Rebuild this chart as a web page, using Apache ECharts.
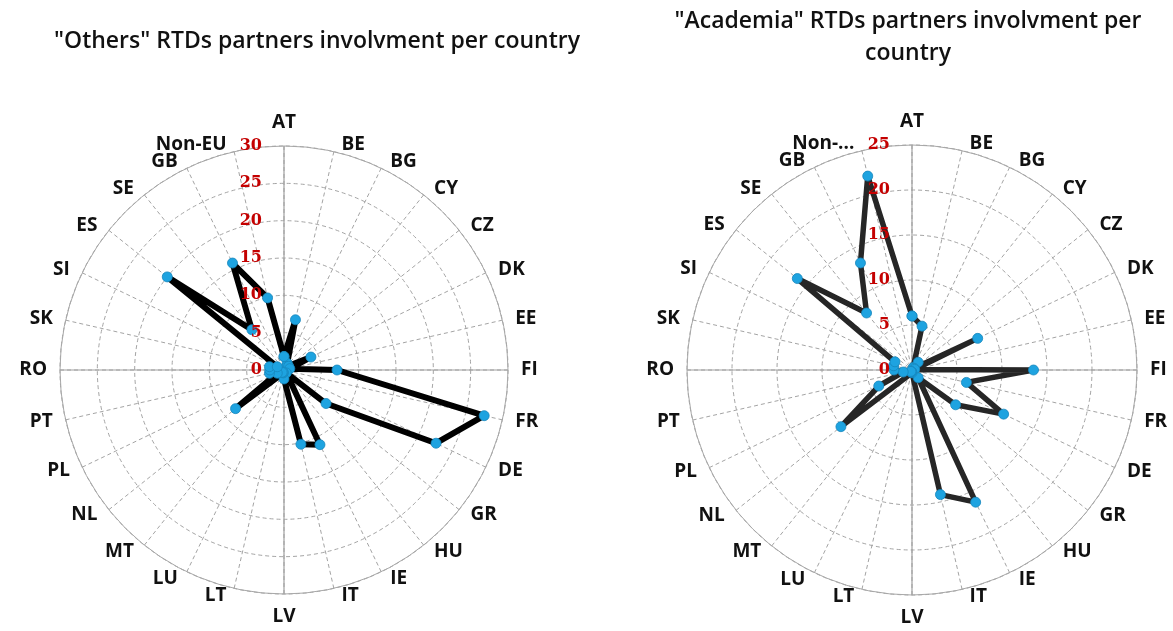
<!DOCTYPE html>
<html>
<head>
<meta charset="utf-8">
<script src="https://cdn.jsdelivr.net/npm/echarts@6/dist/echarts.min.js"></script>
<style>
html,body{margin:0;padding:0;background:#ffffff;}
#chart{width:1173px;height:631px;}
</style>
</head>
<body>
<div id="chart"></div>
<script>
// ---- data ----
const categories = ['AT','BE','BG','CY','CZ','DK','EE','FI','FR','DE','GR','HU','IE','IT','LV','LT','LU','MT','NL','PL','PT','RO','SK','SI','ES','SE','GB','Non-EU'];
const leftTickLabels = ['AT','BE','BG','CY','CZ','DK','EE','FI','FR','DE','GR','HU','IE','IT','LV','LT','LU','MT','NL','PL','PT','RO','SK','SI','ES','SE','GB','Non-EU'];
const rightTickLabels = ['AT','BE','BG','CY','CZ','DK','EE','FI','FR','DE','GR','HU','IE','IT','LV','LT','LU','MT','NL','PL','PT','RO','SK','SI','ES','SE','GB','Non-...'];
const othersValues = [1.8, 6.9, 1.0, 0.6, 0.8, 4.0, 0.8, 7.1, 27.5, 22.6, 7.2, 0.5, 11.1, 10.2, 1.2, 0.4, 0.3, 0.4, 8.3, 1.0, 2.0, 1.9, 2.0, 1.0, 20.0, 6.9, 15.9, 9.9];
const academiaValues = [6.0, 5.0, 0.3, 1.1, 0.3, 8.1, 0.3, 13.5, 6.2, 11.3, 6.2, 1.1, 16.3, 14.2, 0.3, 0.2, 0.2, 0.2, 10.1, 4.1, 1.0, 2.0, 2.1, 2.1, 16.3, 8.1, 13.2, 22.1];
const leftRadiusTicks = [0, 5, 10, 15, 20, 25, 30];
const rightRadiusTicks = [0, 5, 10, 15, 20, 25];
const leftTitle = '"Others" RTDs partners involvment per country';
const rightTitle = '"Academia" RTDs partners involvment per\ncountry';

// ---- styling ----
const LEFT_R = 224, RIGHT_R = 225;
const LABEL_MARGIN = 7;      // label anchor just outside the outer ring
const LABEL_GAP = 6;         // horizontal gap between anchor and text
const POLE_LINE = 32;        // line height used to lift AT / LV off the ring
const FS = 19;
const labelBase = { fontSize: FS, fontWeight: 'bold', color: '#111', fontFamily: 'Open Sans' };

// angle positions are the category indices; loop closes back on the first category
function closedLoop(vals) {
  const d = vals.map((v, i) => [v, i]);
  d.push([vals[0], vals.length]);
  return d;
}

// per-label rich styles so labels sit beside the ring the way the original does
function angleRich(labels, r) {
  const ctx = document.createElement('canvas').getContext('2d');
  ctx.font = 'bold ' + FS + 'px "Open Sans"';
  const n = labels.length, k = (r + LABEL_MARGIN) / r, rich = {};
  labels.forEach((t, i) => {
    const th = i * 2 * Math.PI / n;
    const s = Math.sin(th), c = Math.cos(th);
    const w = ctx.measureText(t).width;
    let pl = 0, pr = 0, lh = Math.round(FS * 1.3);
    if (Math.abs(s) < 1e-6) {
      lh = POLE_LINE;
    } else {
      const hCenter = Math.abs(s) * k < 0.3;
      const vMiddle = Math.abs(c) * k < 0.3;
      const p = hCenter ? w + 2 * LABEL_GAP : LABEL_GAP;
      if (s > 0) pl = p; else pr = p;
      if (!vMiddle) lh = 1;
    }
    rich['t' + i] = Object.assign({ lineHeight: lh, padding: [0, pr, 0, pl] }, labelBase);
  });
  return rich;
}

function mainAngle(idx, labels, r) {
  return {
    polarIndex: idx, type: 'value', min: 0, max: categories.length, interval: 1,
    startAngle: 90, clockwise: true, z: 1,
    axisLine: { show: true, lineStyle: { color: '#a8a8a8', width: 1 } },
    axisTick: { show: false },
    axisLabel: Object.assign({
      margin: LABEL_MARGIN,
      formatter: (v) => (v < labels.length ? '{t' + v + '|' + labels[v] + '}' : ''),
      rich: angleRich(labels, r)
    }, labelBase),
    splitLine: { show: true, lineStyle: { color: '#a4a4a4', width: 1, type: [4, 3] } }
  };
}
function crossAngle(idx) {
  return {
    polarIndex: idx, type: 'value', min: 0, max: 4, interval: 1,
    startAngle: 90, z: 1,
    axisLine: { show: false }, axisTick: { show: false }, axisLabel: { show: false },
    splitLine: { show: true, lineStyle: { color: '#a0a0a0', width: 1.2 } }
  };
}
function mainRadius(idx, ticks) {
  return {
    polarIndex: idx, type: 'value', min: ticks[0], max: ticks[ticks.length - 1],
    interval: ticks[1] - ticks[0], z: 1,
    axisLine: { show: false }, axisTick: { show: false }, axisLabel: { show: false },
    splitLine: { show: true, lineStyle: { color: '#a4a4a4', width: 1, type: [4, 3] } }
  };
}
// overlay radius axis carrying the red value labels above the lines
function labelRadius(idx, ticks) {
  return {
    polarIndex: idx, type: 'value', min: ticks[0], max: ticks[ticks.length - 1],
    interval: ticks[1] - ticks[0], z: 10,
    axisLine: { show: false }, axisTick: { show: false }, splitLine: { show: false },
    axisLabel: { color: '#c40000', fontFamily: 'DejaVu Serif', fontWeight: 'bold', fontSize: 16, margin: 22, padding: [8, 0, 0, 0] }
  };
}

const chart = echarts.init(document.getElementById('chart'));
chart.setOption({
  backgroundColor: '#ffffff',
  animation: false,
  title: [
    { text: leftTitle, left: 312, top: 25, textAlign: 'center',
      textStyle: { fontSize: 23, fontWeight: 600, fontFamily: 'Open Sans', color: '#111' } },
    { text: rightTitle, left: 903, top: 0, textAlign: 'center',
      textStyle: { fontSize: 23, fontWeight: 600, fontFamily: 'Open Sans', color: '#111', lineHeight: 32 } }
  ],
  polar: [
    { center: [284, 370], radius: LEFT_R },
    { center: [284, 370], radius: LEFT_R },
    { center: [912, 370], radius: RIGHT_R },
    { center: [912, 370], radius: RIGHT_R }
  ],
  angleAxis: [mainAngle(0, leftTickLabels, LEFT_R), crossAngle(1), mainAngle(2, rightTickLabels, RIGHT_R), crossAngle(3)],
  radiusAxis: [mainRadius(0, leftRadiusTicks), labelRadius(1, leftRadiusTicks), mainRadius(2, rightRadiusTicks), labelRadius(3, rightRadiusTicks)],
  series: [
    { type: 'line', coordinateSystem: 'polar', polarIndex: 0, data: closedLoop(othersValues),
      symbol: 'circle', symbolSize: 10, z: 5,
      lineStyle: { color: '#000000', width: 6 },
      itemStyle: { color: '#1ea3e0', borderColor: '#1786bd', borderWidth: 0.8 } },
    { type: 'line', coordinateSystem: 'polar', polarIndex: 2, data: closedLoop(academiaValues),
      symbol: 'circle', symbolSize: 10, z: 5,
      lineStyle: { color: '#262626', width: 5.5 },
      itemStyle: { color: '#1ea3e0', borderColor: '#1786bd', borderWidth: 0.8 } }
  ]
});
</script>
</body>
</html>
